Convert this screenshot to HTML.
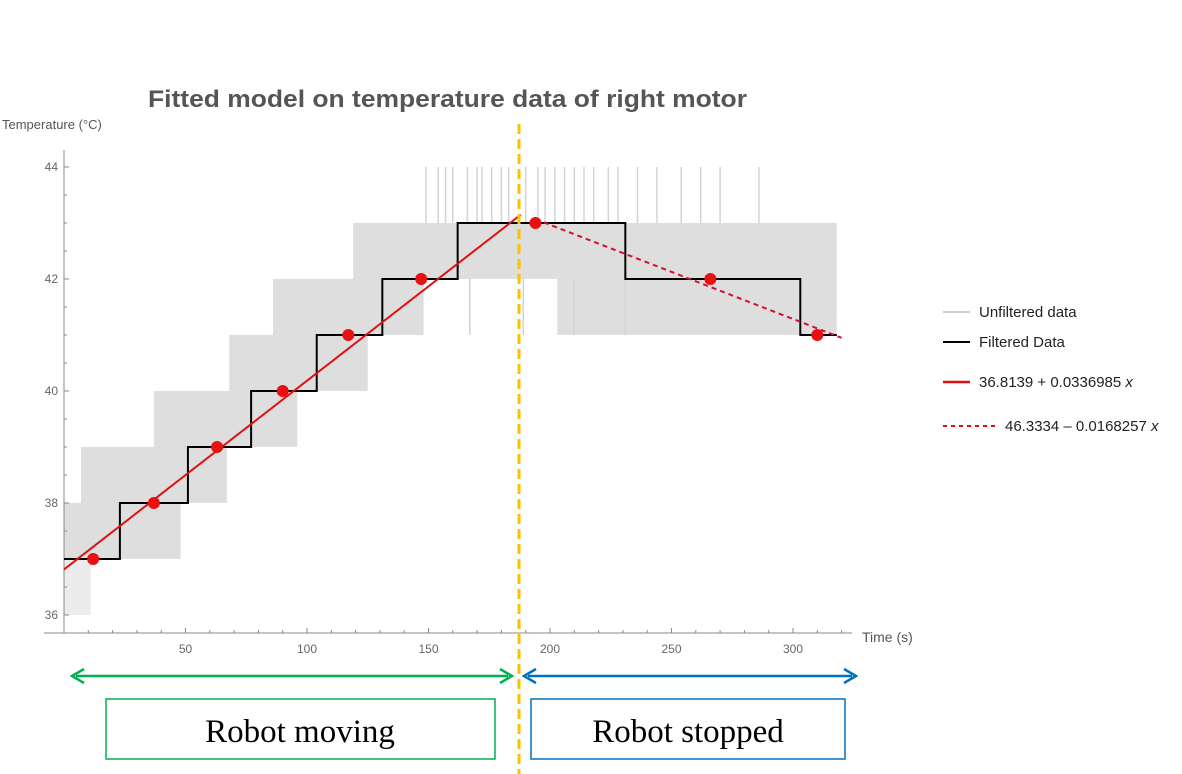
<!DOCTYPE html>
<html><head><meta charset="utf-8"><style>
body{margin:0;background:#fff;width:1182px;height:774px;overflow:hidden}
svg{display:block;font-family:"Liberation Sans",sans-serif}
</style></head><body>
<svg id="chart" width="1182" height="774">
<text x="148" y="107" font-size="24" font-weight="bold" fill="#555" textLength="599" lengthAdjust="spacingAndGlyphs">Fitted model on temperature data of right motor</text>
<text x="2" y="129" font-size="13" fill="#555">Temperature (°C)</text>
<text x="862" y="642" font-size="14" fill="#555">Time (s)</text>
<g id="bands"></g><g id="spikes"></g><g id="axes"></g><g id="series"></g>
<line x1="519" y1="124" x2="519" y2="774" stroke="#FFC000" stroke-width="3" stroke-dasharray="10,5"/>
<g>
<g><line x1="943" y1="312" x2="970" y2="312" stroke="#d0d0d0" stroke-width="2"/><text x="979" y="317" font-size="15" fill="#222">Unfiltered data</text></g>
<g><line x1="943" y1="342" x2="970" y2="342" stroke="#000" stroke-width="2"/><text x="979" y="347" font-size="15" fill="#222">Filtered Data</text></g>
<g><line x1="943" y1="382" x2="970" y2="382" stroke="#e01010" stroke-width="2.5"/><text x="979" y="387" font-size="15" fill="#222">36.8139 + 0.0336985 <tspan font-style="italic">x</tspan></text></g>
<g><line x1="943" y1="426" x2="995" y2="426" stroke="#e01010" stroke-width="2" stroke-dasharray="4,4"/><text x="1005" y="431" font-size="15" fill="#222">46.3334 – 0.0168257 <tspan font-style="italic">x</tspan></text></g>
</g>
<g><line x1="76" y1="676" x2="508" y2="676" stroke="#00B050" stroke-width="2.5"/><polyline points="84,669 72,676 84,683" fill="none" stroke="#00B050" stroke-width="2.5"/><polyline points="500,669 512,676 500,683" fill="none" stroke="#00B050" stroke-width="2.5"/></g>
<g><line x1="528" y1="676" x2="852" y2="676" stroke="#0070C0" stroke-width="2.5"/><polyline points="536,669 524,676 536,683" fill="none" stroke="#0070C0" stroke-width="2.5"/><polyline points="844,669 856,676 844,683" fill="none" stroke="#0070C0" stroke-width="2.5"/></g>
<rect x="106" y="699" width="389" height="60" fill="none" stroke="#00B050" stroke-width="1.5"/>
<text x="300" y="742" font-size="33" text-anchor="middle" font-family="Liberation Serif,serif" fill="#000">Robot moving</text>
<rect x="531" y="699" width="314" height="60" fill="none" stroke="#0070C0" stroke-width="1.5"/>
<text x="688" y="742" font-size="33" text-anchor="middle" font-family="Liberation Serif,serif" fill="#000">Robot stopped</text>
</svg>
<script>
const xTicks=[50,100,150,200,250,300];
const yTicks=[36,38,40,42,44];
const stepStarts=[0,23,51,77,104,131,162,231,303];
const stepValues=[37,38,39,40,41,42,43,42,41];
const stepEnd=318;
const dotTimes=[12,37,63,90,117,147,194,266,310];
const dotValues=[37,38,39,40,41,42,43,42,41];
const fit1=[36.8139,0.0336985]; const fit1Range=[0,188];
const fit2=[46.3334,-0.0168257]; const fit2Range=[194,320];
const bandT0=[0,7,37,68,86,119,203,0];
const bandT1=[48,67,96,125,148,318,318,11];
const bandLo=[37,38,39,40,41,42,41,36];
const bandHi=[38,39,40,41,42,43,42,37];
const spikeTimes=[149,154,157,160,166,170,172,176,180,183,190,195,198,202,206,210,214,218,224,228,236,244,254,262,270,286];
const spikeLo=43, spikeHi=44;
const downSpikeTimes=[167,189,210,231];
const downSpikeLo=41, downSpikeHi=42;

const X=t=>64+2.43*t, Y=v=>615-56*(v-36);
const NS='http://www.w3.org/2000/svg';
function mk(tag,parent,attrs){const e=document.createElementNS(NS,tag);for(const k in attrs)e.setAttribute(k,attrs[k]);document.getElementById(parent).appendChild(e);return e;}
for(let i=0;i<bandT0.length;i++){
 const r=mk('rect','bands',{x:X(bandT0[i]),y:Y(bandHi[i]),width:X(bandT1[i])-X(bandT0[i]),height:Y(bandLo[i])-Y(bandHi[i]),fill:i==7?'#ececec':'#dedede'});
 
 
}
for(const t of spikeTimes){
 const l=mk('line','spikes',{x1:X(t),x2:X(t),y1:Y(spikeHi),y2:Y(spikeLo),stroke:'#d4d4d4','stroke-width':1.5});
 
 
}
for(const t of downSpikeTimes){
 const l=mk('line','spikes',{x1:X(t),x2:X(t),y1:Y(downSpikeHi),y2:Y(downSpikeLo),stroke:'#d4d4d4','stroke-width':1.5});
 
 
}
let a=mk('line','axes',{x1:64,y1:150,x2:64,y2:633,stroke:'#888','stroke-width':1});


a=mk('line','axes',{x1:44,y1:633,x2:852,y2:633,stroke:'#888','stroke-width':1});


for(let t=10;t<=320;t+=10){mk('line','axes',{x1:X(t),x2:X(t),y1:633,y2:t%50?630:628,stroke:'#888'});}
for(const t of xTicks){const e=mk('text','axes',{x:X(t),y:653,'font-size':12,'text-anchor':'middle',fill:'#666'});e.textContent=t;
 
 }
for(let v=36;v<=44;v+=0.5){mk('line','axes',{x1:64,x2:v%2?67:69,y1:Y(v),y2:Y(v),stroke:'#888'});}
for(const v of yTicks){const e=mk('text','axes',{x:58,y:Y(v)+4,'font-size':12,'text-anchor':'end',fill:'#666'});e.textContent=v;
 
 }
let d='';
for(let i=0;i<stepStarts.length;i++){const t1=i+1<stepStarts.length?stepStarts[i+1]:stepEnd;
 d+=(i?'L':'M')+X(stepStarts[i])+','+Y(stepValues[i])+'L'+X(t1)+','+Y(stepValues[i]);}
let p=mk('path','series',{d:d,fill:'none',stroke:'#000','stroke-width':2});


p=mk('line','series',{x1:X(fit1Range[0]),y1:Y(fit1[0]+fit1[1]*fit1Range[0]),x2:X(fit1Range[1]),y2:Y(fit1[0]+fit1[1]*fit1Range[1]),stroke:'#e01010','stroke-width':2});


p=mk('line','series',{x1:X(fit2Range[0]),y1:Y(fit2[0]+fit2[1]*fit2Range[0]),x2:X(fit2Range[1]),y2:Y(fit2[0]+fit2[1]*fit2Range[1]),stroke:'#d01030','stroke-width':2,'stroke-dasharray':'5,4'});


for(let i=0;i<dotTimes.length;i++){const c=mk('circle','series',{cx:X(dotTimes[i]),cy:Y(dotValues[i]),r:6,fill:'#e81010'});
 
 }
</script>
</body></html>
